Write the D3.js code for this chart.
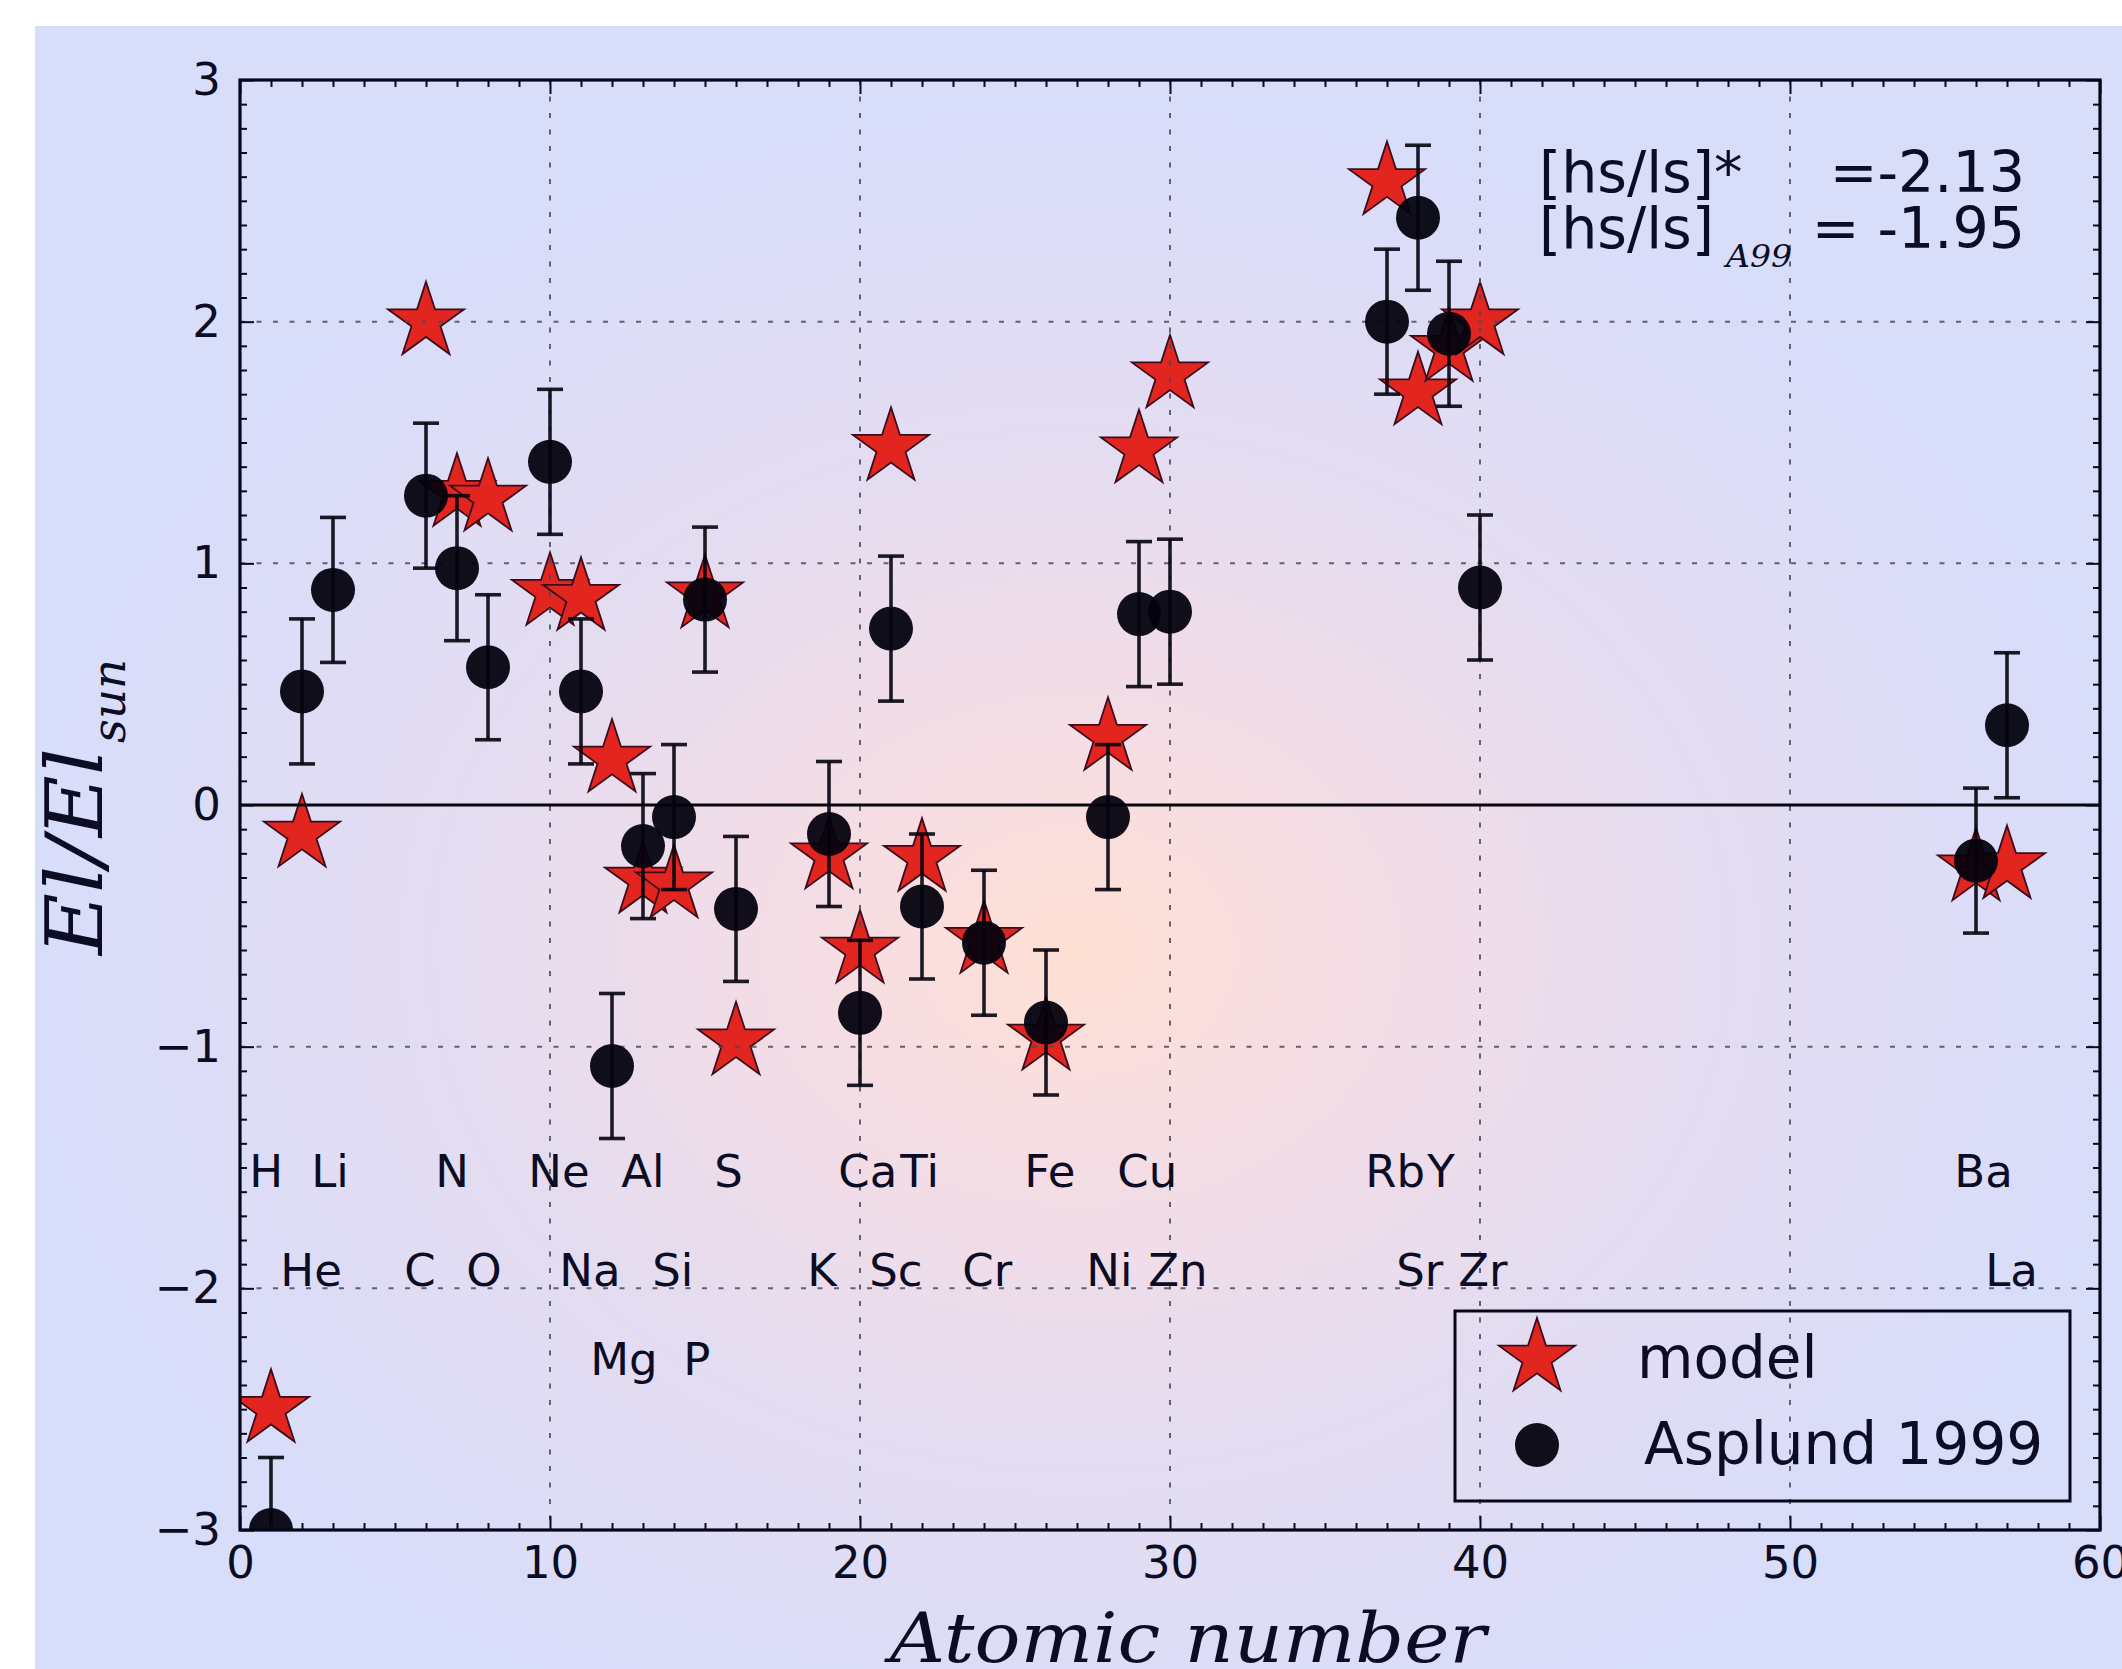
<!DOCTYPE html>
<html>
<head>
<meta charset="utf-8">
<script src="https://cdn.jsdelivr.net/npm/d3@7"></script>
<style>
  html, body { margin: 0; padding: 0; background: #fff; }
  svg { display: block; }
  text { font-family: "DejaVu Sans", sans-serif; fill: #0c0c24; }
</style>
</head>
<body>
<div id="chart"></div>
<script>
// data
var modelZ   = [1, 2, 6, 7, 8, 10, 11, 12, 13, 14, 15, 16, 19, 20, 21, 22, 24, 26, 28, 29, 30, 37, 38, 39, 40, 56, 57];
var modelVal = [-2.50, -0.12, 2.00, 1.29, 1.27, 0.88, 0.86, 0.19, -0.31, -0.33, 0.87, -0.98, -0.21, -0.60, 1.48, -0.22, -0.56, -0.96, 0.28, 1.47, 1.78, 2.58, 1.71, 1.89, 2.00, -0.26, -0.25];

var obsZ   = [1, 2, 3, 6, 7, 8, 10, 11, 12, 13, 14, 15, 16, 19, 20, 21, 22, 24, 26, 28, 29, 30, 37, 38, 39, 40, 56, 57];
var obsVal = [-3.00, 0.47, 0.89, 1.28, 0.98, 0.57, 1.42, 0.47, -1.08, -0.17, -0.05, 0.85, -0.43, -0.12, -0.86, 0.73, -0.42, -0.57, -0.90, -0.05, 0.79, 0.80, 2.00, 2.43, 1.95, 0.90, -0.23, 0.33];
var obsErr = [0.3, 0.3, 0.3, 0.3, 0.3, 0.3, 0.3, 0.3, 0.3, 0.3, 0.3, 0.3, 0.3, 0.3, 0.3, 0.3, 0.3, 0.3, 0.3, 0.3, 0.3, 0.3, 0.3, 0.3, 0.3, 0.3, 0.3, 0.3];

// element names, three rows under the points
var row1Names = ["H", "Li", "N", "Ne", "Al", "S", "Ca", "Ti", "Fe", "Cu", "Rb", "Y", "Ba"];
var row1Z     = [1, 3, 7, 10, 13, 16, 20, 22, 26, 29, 37, 39, 56];
var row2Names = ["He", "C", "O", "Na", "Si", "K", "Sc", "Cr", "Ni", "Zn", "Sr", "Zr", "La"];
var row2Z     = [2, 6, 8, 11, 14, 19, 21, 24, 28, 30, 38, 40, 57];
var row3Names = ["Mg", "P"];
var row3Z     = [12, 15];
var rowLevels = [-1.58, -1.99, -2.36];

var xTicks = [0, 10, 20, 30, 40, 50, 60];
var yTicks = [-3, -2, -1, 0, 1, 2, 3];

var W = 2122, H = 1669;
var pLeft = 240, pRight = 2100, pTop = 80, pBottom = 1530;

var x = d3.scaleLinear().domain([0, 60]).range([pLeft, pRight]);
var y = d3.scaleLinear().domain([-3, 3]).range([pBottom, pTop]);

var svg = d3.select("#chart").append("svg")
    .attr("width", W).attr("height", H);

var defs = svg.append("defs");
var grad = defs.append("radialGradient")
    .attr("id", "bg")
    .attr("gradientUnits", "userSpaceOnUse")
    .attr("cx", 1080).attr("cy", 950).attr("r", 1050)
    .attr("gradientTransform", "translate(1080,950) scale(1,0.8) translate(-1080,-950)");
grad.append("stop").attr("offset", 0).attr("stop-color", "#ffe0d4");
grad.append("stop").attr("offset", 0.25).attr("stop-color", "#f5dde4");
grad.append("stop").attr("offset", 0.6).attr("stop-color", "#e4dcf1");
grad.append("stop").attr("offset", 1).attr("stop-color", "#d8ddfa");

defs.append("clipPath").attr("id", "plotclip")
    .append("rect")
    .attr("x", pLeft).attr("y", pTop)
    .attr("width", pRight - pLeft).attr("height", pBottom - pTop);

svg.append("rect").attr("width", W).attr("height", H).attr("fill", "#fff");
svg.append("rect")
    .attr("x", 35).attr("y", 26)
    .attr("width", W - 35).attr("height", H - 26)
    .attr("fill", "url(#bg)");

var plot = svg.append("g").attr("clip-path", "url(#plotclip)");

// model stars
var starPath = d3.symbol().type(d3.symbolStar).size(1796);
plot.selectAll("path.star")
    .data(modelZ.map(function(z, i){ return {z: z, v: modelVal[i]}; }))
    .enter().append("path")
    .attr("class", "star")
    .attr("d", starPath)
    .attr("transform", function(d){ return "translate(" + x(d.z) + "," + y(d.v) + ")"; })
    .attr("fill", "#e2261f")
    .attr("stroke", "#3c0c1c")
    .attr("stroke-width", 1.8);

// dotted grid
var grid = plot.append("g");
grid.selectAll("line.gx").data(xTicks.slice(1, -1)).enter().append("line")
    .attr("x1", function(d){ return x(d); }).attr("x2", function(d){ return x(d); })
    .attr("y1", pTop).attr("y2", pBottom);
grid.selectAll("line.gy").data(yTicks.filter(function(d){ return d !== 0 && d !== 3 && d !== -3; }))
    .enter().append("line")
    .attr("x1", pLeft).attr("x2", pRight)
    .attr("y1", function(d){ return y(d); }).attr("y2", function(d){ return y(d); });
grid.selectAll("line")
    .attr("stroke", "#4a4a5e")
    .attr("stroke-opacity", 0.85)
    .attr("stroke-width", 2)
    .attr("stroke-dasharray", "5,11.5");

// zero line
plot.append("line")
    .attr("x1", pLeft).attr("x2", pRight)
    .attr("y1", y(0)).attr("y2", y(0))
    .attr("stroke", "#08040c").attr("stroke-width", 3);

// error bars for Asplund 1999
var obs = obsZ.map(function(z, i){ return {z: z, v: obsVal[i], e: obsErr[i]}; });
var eb = plot.append("g")
    .attr("stroke", "#05030e").attr("stroke-opacity", 0.9).attr("stroke-width", 3.6);
eb.selectAll("line.bar").data(obs).enter().append("line")
    .attr("x1", function(d){ return x(d.z); }).attr("x2", function(d){ return x(d.z); })
    .attr("y1", function(d){ return y(d.v - d.e); }).attr("y2", function(d){ return y(d.v + d.e); });
eb.selectAll("line.capT").data(obs).enter().append("line")
    .attr("x1", function(d){ return x(d.z) - 13; }).attr("x2", function(d){ return x(d.z) + 13; })
    .attr("y1", function(d){ return y(d.v + d.e); }).attr("y2", function(d){ return y(d.v + d.e); });
eb.selectAll("line.capB").data(obs).enter().append("line")
    .attr("x1", function(d){ return x(d.z) - 13; }).attr("x2", function(d){ return x(d.z) + 13; })
    .attr("y1", function(d){ return y(d.v - d.e); }).attr("y2", function(d){ return y(d.v - d.e); });

plot.selectAll("circle.obs").data(obs).enter().append("circle")
    .attr("cx", function(d){ return x(d.z); })
    .attr("cy", function(d){ return y(d.v); })
    .attr("r", 22)
    .attr("fill", "#04020f").attr("fill-opacity", 0.95);

// element labels
var rows = [[row1Names, row1Z], [row2Names, row2Z], [row3Names, row3Z]];
rows.forEach(function(r, k){
    svg.append("g").selectAll("text").data(r[0]).enter().append("text")
        .attr("x", function(d, i){ return x(r[1][i] - 0.7); })
        .attr("y", y(rowLevels[k]))
        .attr("font-size", 45)
        .text(function(d){ return d; });
});

// axes, ticks pointing inward on every side
function styleAxis(g){
    g.select(".domain").remove();
    g.selectAll(".tick line").attr("stroke", "#0a0a1e").attr("stroke-width", 2);
    g.selectAll("text").attr("font-size", 45).attr("fill", "#0c0c24")
        .style("font-family", "DejaVu Sans, sans-serif");
}
var xMinor = d3.range(0, 61, 1).filter(function(d){ return d % 10 !== 0; });
var yMinor = d3.range(-30, 31, 1).filter(function(d){ return d % 10 !== 0; }).map(function(d){ return d / 10; });

svg.append("g").attr("transform", "translate(0," + pBottom + ")")
    .call(d3.axisBottom(x).tickValues(xTicks).tickSize(-14).tickPadding(16).tickFormat(d3.format("d")))
    .call(styleAxis);
svg.append("g").attr("transform", "translate(0," + pBottom + ")")
    .call(d3.axisBottom(x).tickValues(xMinor).tickSize(-7).tickFormat(""))
    .call(styleAxis);
svg.append("g").attr("transform", "translate(0," + pTop + ")")
    .call(d3.axisTop(x).tickValues(xTicks).tickSize(-14).tickFormat(""))
    .call(styleAxis);
svg.append("g").attr("transform", "translate(0," + pTop + ")")
    .call(d3.axisTop(x).tickValues(xMinor).tickSize(-7).tickFormat(""))
    .call(styleAxis);
svg.append("g").attr("transform", "translate(" + pLeft + ",0)")
    .call(d3.axisLeft(y).tickValues(yTicks).tickSize(-14).tickPadding(19)
        .tickFormat(function(d){ return d < 0 ? "\u2212" + Math.abs(d) : String(d); }))
    .call(styleAxis);
svg.append("g").attr("transform", "translate(" + pLeft + ",0)")
    .call(d3.axisLeft(y).tickValues(yMinor).tickSize(-7).tickFormat(""))
    .call(styleAxis);
svg.append("g").attr("transform", "translate(" + pRight + ",0)")
    .call(d3.axisRight(y).tickValues(yTicks).tickSize(-14).tickFormat(""))
    .call(styleAxis);
svg.append("g").attr("transform", "translate(" + pRight + ",0)")
    .call(d3.axisRight(y).tickValues(yMinor).tickSize(-7).tickFormat(""))
    .call(styleAxis);

svg.append("rect")
    .attr("x", pLeft).attr("y", pTop)
    .attr("width", pRight - pLeft).attr("height", pBottom - pTop)
    .attr("fill", "none").attr("stroke", "#06061a").attr("stroke-width", 3.2);

// axis titles
svg.append("text")
    .attr("x", 890).attr("y", 1662)
    .attr("textLength", 596).attr("lengthAdjust", "spacingAndGlyphs")
    .style("font-family", "DejaVu Serif, serif").style("font-style", "italic")
    .attr("font-size", 70)
    .text("Atomic number");

var yl = svg.append("g").attr("transform", "translate(102,955) rotate(-90)");
yl.append("text")
    .attr("x", 0).attr("y", 0)
    .attr("textLength", 207).attr("lengthAdjust", "spacingAndGlyphs")
    .style("font-family", "DejaVu Serif, serif").style("font-style", "italic")
    .attr("font-size", 78)
    .text("El/El");
yl.append("text")
    .attr("x", 212).attr("y", 23)
    .attr("textLength", 84).attr("lengthAdjust", "spacingAndGlyphs")
    .style("font-family", "DejaVu Serif, serif").style("font-style", "italic")
    .attr("font-size", 46)
    .text("sun");

// [hs/ls] annotation
svg.append("text").attr("x", 1539).attr("y", 192).attr("font-size", 57).text("[hs/ls]*");
svg.append("text").attr("x", 2025).attr("y", 192).attr("font-size", 57)
    .attr("text-anchor", "end").text("=-2.13");
svg.append("text").attr("x", 1539).attr("y", 248).attr("font-size", 57).text("[hs/ls]");
svg.append("text").attr("x", 1726).attr("y", 267).attr("font-size", 31)
    .attr("textLength", 66).attr("lengthAdjust", "spacingAndGlyphs")
    .style("font-family", "DejaVu Serif, serif").style("font-style", "italic")
    .text("A99");
svg.append("text").attr("x", 2025).attr("y", 248).attr("font-size", 57)
    .attr("text-anchor", "end").text("= -1.95");

// legend
var lg = svg.append("g");
lg.append("rect")
    .attr("x", 1455).attr("y", 1311).attr("width", 615).attr("height", 190)
    .attr("fill", "none").attr("stroke", "#06061a").attr("stroke-width", 3);
lg.append("path").attr("d", starPath)
    .attr("transform", "translate(1537,1358)")
    .attr("fill", "#e2261f").attr("stroke", "#3c0c1c").attr("stroke-width", 1.8);
lg.append("circle").attr("cx", 1537).attr("cy", 1445).attr("r", 22)
    .attr("fill", "#04020f").attr("fill-opacity", 0.95);
lg.append("text").attr("x", 1637).attr("y", 1378).attr("font-size", 58).text("model");
lg.append("text").attr("x", 1644).attr("y", 1464).attr("font-size", 58).text("Asplund 1999");
</script>
</body>
</html>
